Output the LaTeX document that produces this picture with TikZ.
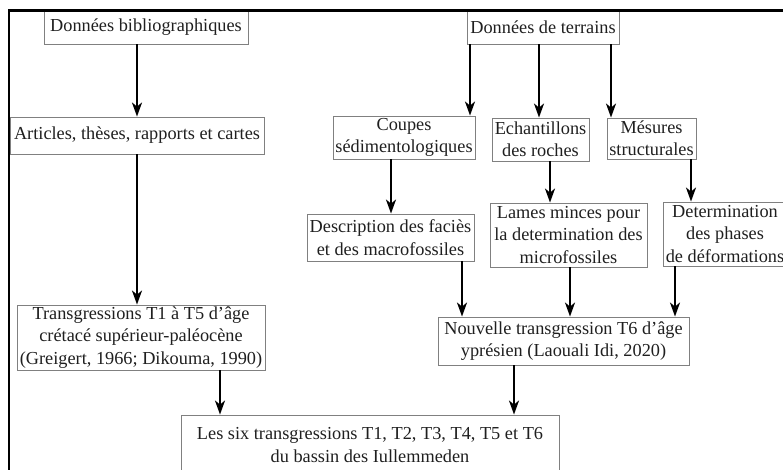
\documentclass[tikz,border=0pt]{standalone}
\usepackage{fontspec}
\setmainfont{Liberation Serif}
\usetikzlibrary{arrows.meta}
\begin{document}
\begin{tikzpicture}[x=1pt,y=-1pt,
  box/.style={draw=black!50,line width=0.9pt,rectangle,inner sep=0pt,align=center,
    text=black!88,font=\fontsize{18.3}{22.3}\selectfont},
  arr/.style={draw=black,line width=2pt,-{Stealth[length=14pt,width=10pt,inset=4pt]}},
  frame/.style={draw=black,line width=2.6pt}]
\useasboundingbox (0,0) rectangle (783,470);
\begin{scope}
\clip (0,0) rectangle (783,470);
\node[box,minimum width=204pt,minimum height=33pt] (bib) at (146,27.5) {Données bibliographiques};
\node[box,minimum width=152pt,minimum height=33pt] (terr) at (543,27.5) {Données de terrains};
\node[box,minimum width=254pt,minimum height=37pt] (art) at (137,135.5) {Articles, thèses, rapports et cartes};
\node[box,minimum width=142pt,minimum height=43pt] (coupes) at (404,137.5) {Coupes\\sédimentologiques};
\node[box,minimum width=97pt,minimum height=43pt] (ech) at (540.5,139.5) {Echantillons\\des roches};
\node[box,minimum width=89pt,minimum height=41pt] (mes) at (651.5,138.5) {Mésures\\structurales};
\node[box,minimum width=167pt,minimum height=47pt] (desc) at (390.5,237.5) {Description des faciès\\et des macrofossiles};
\node[box,minimum width=157pt,minimum height=64pt] (lames) at (568.5,235) {Lames minces pour\\la determination des\\microfossiles};
\node[box,minimum width=124pt,minimum height=64pt] (deter) at (725,234) {Determination\\des phases\\de déformations};
\node[box,minimum width=248pt,minimum height=65pt] (trans) at (141,337.5) {Transgressions T1 à T5 d’âge\\crétacé supérieur-paléocène\\(Greigert, 1966; Dikouma, 1990)};
\node[box,minimum width=251pt,minimum height=48pt] (nouv) at (563.5,341) {Nouvelle transgression T6 d’âge\\yprésien (Laouali Idi, 2020)};
\node[box,minimum width=378pt,minimum height=60pt] (six) at (370,445) {Les six transgressions T1, T2, T3, T4, T5 et T6\\du bassin des Iullemmeden};

\draw[arr] ([xshift=-9pt]bib.south) -- (art.north);
\draw[arr] ([xshift=-73pt]terr.south) -- ([xshift=66pt]coupes.north);
\draw[arr] ([xshift=-4pt]terr.south) -- ([xshift=-1.5pt]ech.north);
\draw[arr] ([xshift=68pt]terr.south) -- ([xshift=-40.5pt]mes.north);
\draw[arr] ([xshift=-13pt]coupes.south) -- ([xshift=0.5pt]desc.north);
\draw[arr] ([xshift=9.5pt]ech.south) -- ([xshift=-18.5pt]lames.north);
\draw[arr] ([xshift=39.5pt]mes.south) -- ([xshift=-34pt]deter.north);
\draw[arr] (art.south) -- ([xshift=-4pt]trans.north);
\draw[arr] ([xshift=71.5pt]desc.south) -- ([xshift=-101.5pt]nouv.north);
\draw[arr] ([xshift=1.5pt]lames.south) -- ([xshift=6.5pt]nouv.north);
\draw[arr] ([xshift=-50pt]deter.south) -- ([xshift=111.5pt]nouv.north);
\draw[arr] ([xshift=79pt]trans.south) -- ([xshift=-150pt]six.north);
\draw[arr] ([xshift=-49.5pt]nouv.south) -- ([xshift=144pt]six.north);

\coordinate (fbl) at (9,480);
\coordinate (ftl) at (9,10.5);
\coordinate (ftr) at (800,10.5);
\draw[frame] (fbl) -- (ftl) -- (ftr);
\end{scope}
\end{tikzpicture}
\end{document}
